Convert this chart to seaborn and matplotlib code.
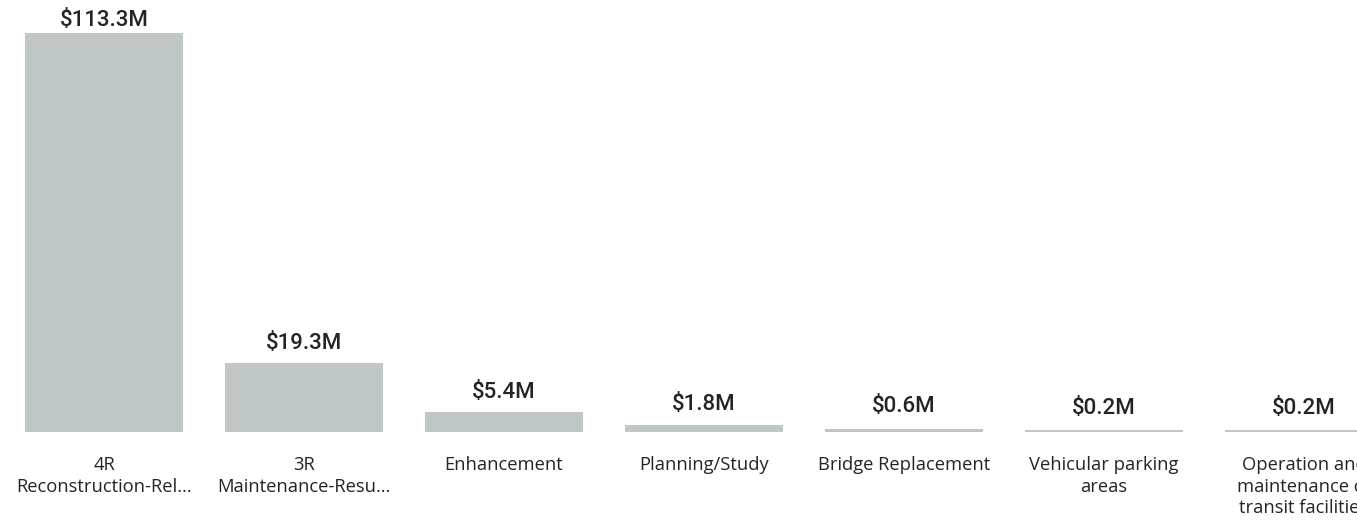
import numpy as np
import pandas as pd
import matplotlib
matplotlib.use("Agg")
import matplotlib.pyplot as plt
import seaborn as sns

# Datos del grafico
categorias = ["4R\nReconstruction-Rel\u2026", "3R\nMaintenance-Resu\u2026", "Enhancement",
              "Planning/Study", "Bridge Replacement", "Vehicular parking\nareas",
              "Operation and\nmaintenance of\ntransit facilities"]
valores = [113.3, 19.3, 5.4, 1.8, 0.6, 0.2, 0.2]
etiquetas = ["$113.3M", "$19.3M", "$5.4M", "$1.8M", "$0.6M", "$0.2M", "$0.2M"]

df = pd.DataFrame({"Categoria": categorias, "Valor": valores})

sns.set_style("white")
plt.rcParams['font.family'] = ['Open Sans', 'DejaVu Sans']

fig = plt.figure(figsize=(13.57, 5.32), dpi=100)
ax = fig.add_axes([0, 100 / 532, 1, 432 / 532])

color_barra = "#c1c6c6"
sns.barplot(data=df, x="Categoria", y="Valor", color=color_barra, width=0.78,
            saturation=1, ax=ax, edgecolor=color_barra, linewidth=1.5)

ax.set_xlim(-0.52, 6.265)
ax.set_ylim(0, 123.0)
ax.set_xlabel("")
ax.set_ylabel("")
ax.set_yticks([])
sns.despine(ax=ax, left=True, bottom=True, top=True, right=True)
ax.tick_params(axis="x", length=0, pad=17)
for t in ax.get_xticklabels():
    t.set_fontsize(13.2)
    t.set_color("#252423")
    t.set_linespacing(1.28)

# Etiquetas de valores
for i, (v, txt) in enumerate(zip(valores, etiquetas)):
    if v / 123.0 > 0.85:
        pad = 2.2
    elif v > 1:
        pad = 7.5
    else:
        pad = 9
    ax.annotate(txt, xy=(i, v), xytext=(0, pad), textcoords="offset points",
                ha="center", va="bottom", fontsize=16, fontweight="medium",
                color="#252423", family=["Roboto", "DejaVu Sans"],
                annotation_clip=False)

plt.savefig("out.png", dpi=100)
